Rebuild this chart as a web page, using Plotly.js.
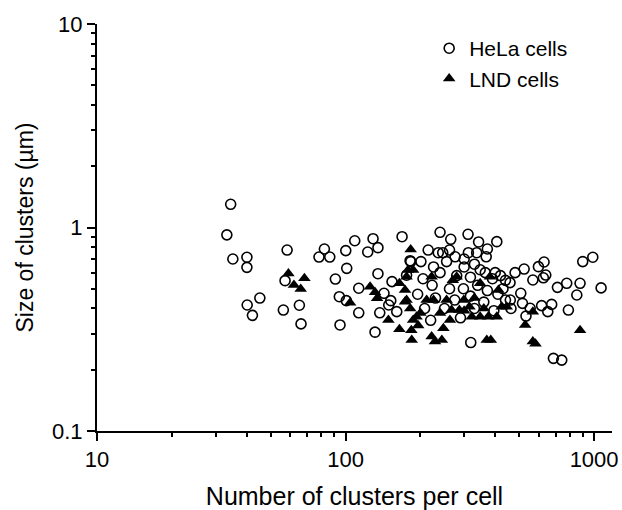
<!DOCTYPE html>
<html>
<head>
<meta charset="utf-8">
<script src="https://cdn.plot.ly/plotly-3.0.1.min.js"></script>
<style>html,body{margin:0;padding:0;background:#fff;}#chart{width:622px;height:510px;}</style>
</head>
<body>
<div id="chart"></div>
<script>
// HeLa cells (open circles): number of clusters per cell, cluster size (µm)
const helaX = [34.5,33.3,35.2,40.1,40.1,40.2,42.2,45.2,58.2,57.1,56.2,65.2,66.2,82.2,78.2,86.4,100.2,108.9,101.1,91,113,94.4,100.7,113,95,
  129,135,122.8,135,153.8,142.8,152,149.2,137.3,131.4,168.8,181.8,160.7,176,
  240,265,311,343,406,372,215,236,246,262,276,312,337,368,201,183,
  226,255,300,330,348,365,400,390,240,280,318,205,223,262,298,340,372,410,195,230,275,318,360,208,250,330,395,220,290,300,420,440,440,460,430,
  597,629,639,625,567,523,481,459,507,515,553,532,615,651,675,712,776,852,878,900,988,1067,788,686,741,319,463];
const helaY = [1.3,0.92,0.70,0.714,0.637,0.416,0.37,0.45,0.775,0.548,0.393,0.415,0.336,0.784,0.716,0.716,0.77,0.861,0.63,0.558,0.503,0.457,0.437,0.381,0.332,
  0.881,0.796,0.758,0.593,0.542,0.475,0.437,0.416,0.381,0.306,0.901,0.687,0.386,0.583,
  0.947,0.875,0.926,0.849,0.852,0.784,0.775,0.752,0.752,0.775,0.718,0.752,0.752,0.718,0.68,0.68,
  0.64,0.68,0.64,0.66,0.62,0.60,0.60,0.56,0.60,0.58,0.57,0.56,0.52,0.50,0.50,0.52,0.49,0.47,0.47,0.45,0.44,0.46,0.43,0.40,0.40,0.40,0.39,0.35,0.36,0.70,0.58,0.55,0.44,0.44,0.50,
  0.642,0.677,0.584,0.566,0.552,0.625,0.60,0.536,0.475,0.424,0.401,0.367,0.413,0.386,0.419,0.508,0.532,0.466,0.532,0.68,0.714,0.505,0.393,0.2275,0.223,0.272,0.40];

// LND cells (filled triangles)
const lndX = [58.9,68.3,62,66,104.3,125.5,131.4,133.9,148.7,164.7,164.7,173.5,178.4,182.8,184,184.6,176,187,182,
  193,176,187,173.5,212,222,229,244,247.5,263,222,226,255,267,280,287,315,322,348,375,406,412,425,445,348,381,370,384,
  528,567,567,581,878,299,270,200,240,330,360,300,196];
const lndY = [0.595,0.563,0.522,0.499,0.427,0.512,0.48,0.449,0.351,0.532,0.316,0.432,0.618,0.78,0.313,0.28,0.44,0.351,0.40,
  0.364,0.573,0.618,0.493,0.44,0.291,0.275,0.28,0.32,0.351,0.573,0.44,0.44,0.393,0.573,0.393,0.408,0.364,0.364,0.364,0.364,0.493,0.408,0.408,0.532,0.573,0.28,0.28,
  0.332,0.386,0.275,0.268,0.313,0.44,0.55,0.38,0.38,0.45,0.40,0.39,0.33];

const seriesNames = ['HeLa cells', 'LND cells'];
const xTickVals = [10, 100, 1000];
const xTickText = ['10', '100', '1000'];
const xMinorVals = [20,30,40,50,60,70,80,90,200,300,400,500,600,700,800,900];
const yTickVals = [0.1, 1, 10];
const yTickText = ['0.1', '1', '10'];
const yMinorVals = [0.2,0.3,0.4,0.5,0.6,0.7,0.8,0.9,2,3,4,5,6,7,8,9];

const FONT = 'Liberation Sans, Arial, sans-serif';

const traces = [
  {
    x: helaX, y: helaY, name: seriesNames[0], type: 'scatter', mode: 'markers',
    marker: {symbol: 'circle-open', size: 10, color: 'black', line: {width: 1.6, color: 'black'}}
  },
  {
    x: lndX, y: lndY, name: seriesNames[1], type: 'scatter', mode: 'markers',
    marker: {symbol: 'triangle-up', size: 11, color: 'black', line: {width: 0}}
  }
];

function axisBase(minorVals) {
  return {
    type: 'log',
    showgrid: false, zeroline: false,
    showline: true, linecolor: 'black', linewidth: 2,
    ticks: 'outside', ticklen: 8, tickwidth: 2, tickcolor: 'black',
    tickfont: {family: FONT, size: 22, color: 'black'},
    minor: {ticks: 'outside', ticklen: 4, tickwidth: 2, tickcolor: 'black',
            tickmode: 'array', tickvals: minorVals, showgrid: false}
  };
}

const layout = {
  width: 622, height: 510,
  margin: {l: 97, r: 10, t: 24, b: 79},
  paper_bgcolor: 'white', plot_bgcolor: 'white',
  font: {family: FONT, color: 'black'},
  showlegend: true,
  legend: {
    x: 0.645, y: 0.99, xanchor: 'left', yanchor: 'top',
    font: {family: FONT, size: 21, color: 'black'},
    bgcolor: 'rgba(0,0,0,0)', tracegroupgap: 0, itemwidth: 30
  },
  xaxis: Object.assign({}, axisBase(xMinorVals), {
    range: [1, 3.072],
    tickvals: xTickVals, ticktext: xTickText,
    title: {text: 'Number of clusters per cell', font: {family: FONT, size: 25, color: 'black'}, standoff: 16}
  }),
  yaxis: Object.assign({}, axisBase(yMinorVals), {
    range: [-1, 1],
    tickvals: yTickVals, ticktext: yTickText,
    title: {text: 'Size of clusters (µm)', font: {family: FONT, size: 23, color: 'black'}, standoff: 12}
  })
};

Plotly.newPlot('chart', traces, layout, {displayModeBar: false, staticPlot: true});
</script>
</body>
</html>
